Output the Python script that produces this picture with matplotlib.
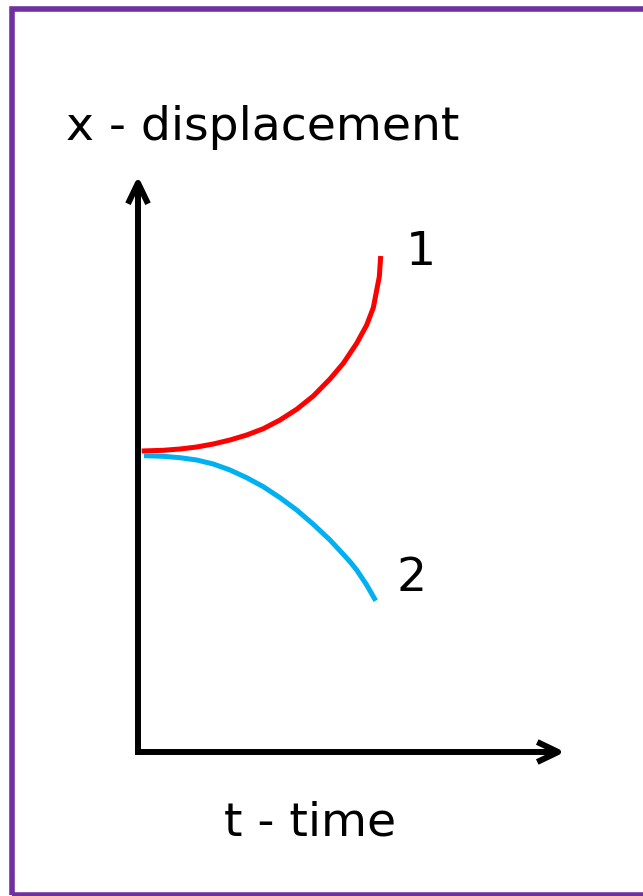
import matplotlib
matplotlib.use("Agg")
import matplotlib.pyplot as plt
from matplotlib.patches import Rectangle

# Data (arbitrary units, origin at the axes corner)
t_curve1 = [0.37, 2.53, 4.2, 5.87, 7.53, 9.2, 10.87, 12.53, 14.2, 15.87,
            17.53, 19.2, 20.53, 21.87, 22.87, 23.53, 24.13, 24.27]
x_curve1 = [30.1, 30.17, 30.3, 30.5, 30.8, 31.2, 31.7, 32.33, 33.2, 34.27,
            35.6, 37.3, 38.87, 40.87, 42.7, 44.43, 47.53, 49.6]
t_curve2 = [0.6, 2.53, 4.2, 5.87, 7.53, 9.2, 10.87, 12.53, 14.2, 15.87,
            17.53, 19.2, 20.53, 21.2, 21.87, 22.87, 23.77]
x_curve2 = [29.63, 29.57, 29.43, 29.2, 28.8, 28.2, 27.43, 26.53, 25.43, 24.2,
            22.77, 21.2, 19.77, 19.03, 18.2, 16.7, 15.13]
curve_labels = ["1", "2"]
x_axis_label = "t - time"
y_axis_label = "x - displacement"

fig = plt.figure(figsize=(6.43, 8.96), dpi=100)
ax = fig.add_axes([0, 0, 1, 1])
ax.set_xlim(-13.8, 50.5)
ax.set_ylim(-14.4, 75.2)
ax.axis("off")

# purple frame
fig.patches.append(Rectangle((11.5 / 643, 1.0 / 896), 2.0, 1 - 10.0 / 896,
                             transform=fig.transFigure, fill=False,
                             edgecolor="#7030A0", linewidth=4.0, zorder=0))

# axes arrows
arrow_style = "->,head_length=0.75,head_width=0.36"
ax.annotate("", xy=(0, 57.6), xytext=(0, -0.3),
            arrowprops=dict(arrowstyle=arrow_style, lw=4.3, color="black",
                            shrinkA=0, shrinkB=0, mutation_scale=20,
                            capstyle="butt"))
ax.annotate("", xy=(42.7, 0), xytext=(-0.3, 0),
            arrowprops=dict(arrowstyle=arrow_style, lw=4.3, color="black",
                            shrinkA=0, shrinkB=0, mutation_scale=20,
                            capstyle="butt"))

ax.plot(t_curve1, x_curve1, color="#FF0000", lw=3.6, solid_capstyle="butt",
        solid_joinstyle="round")
ax.plot(t_curve2, x_curve2, color="#00B0F0", lw=3.6, solid_capstyle="butt",
        solid_joinstyle="round")

fs = 34
ax.text(26.8, 50.0, curve_labels[0], fontsize=fs, ha="left", va="center")
ax.text(25.9, 17.4, curve_labels[1], fontsize=fs, ha="left", va="center")
ax.text(17.25, -8.3, x_axis_label, fontsize=fs, ha="center", va="baseline")
ax.text(-7.2, 61.2, y_axis_label, fontsize=fs, ha="left", va="baseline")

fig.savefig("out.png", dpi=100)
